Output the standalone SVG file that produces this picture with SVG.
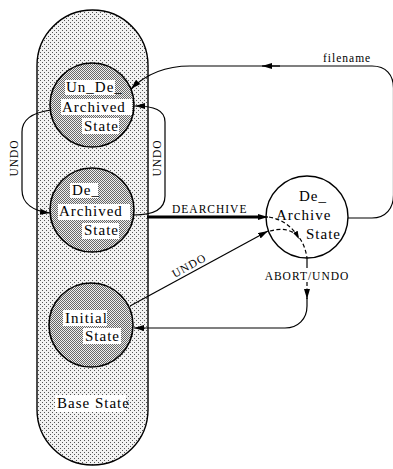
<svg xmlns="http://www.w3.org/2000/svg" width="393" height="469" viewBox="0 0 393 469">
  <defs>
    <!-- light stipple for the enclosing super-state -->
    <pattern id="stippleLight" x="0" y="0" width="4" height="4" patternUnits="userSpaceOnUse">
      <rect width="4" height="4" fill="#f2f2f2"/>
      <rect x="0" y="0" width="1" height="1" fill="#555"/>
      <rect x="2" y="2" width="1" height="1" fill="#555"/>
    </pattern>
    <!-- denser stipple for the inner states -->
    <pattern id="stippleDense" x="0" y="0" width="2" height="2" patternUnits="userSpaceOnUse">
      <rect width="2" height="2" fill="#eeeeee"/>
      <rect x="0" y="0" width="1" height="1" fill="#666"/>
      <rect x="1" y="1" width="1" height="1" fill="#666"/>
    </pattern>
    <marker id="arrow" viewBox="0 0 10 6" refX="10" refY="3" markerWidth="10" markerHeight="6" markerUnits="userSpaceOnUse" orient="auto">
      <path d="M0,0 L10,3 L0,6 Z" fill="#000"/>
    </marker>
    <marker id="arrowSmall" viewBox="0 0 8 5" refX="8" refY="2.5" markerWidth="8" markerHeight="5" markerUnits="userSpaceOnUse" orient="auto">
      <path d="M0,0 L8,2.5 L0,5 Z" fill="#000"/>
    </marker>
  </defs>
  <style>
    .state { stroke: #000; stroke-width: 1.6; fill: url(#stippleDense); }
    .super { stroke: #000; stroke-width: 1.4; fill: url(#stippleLight); }
    .plain { stroke: #000; stroke-width: 1.4; fill: #fff; }
    .lbl { font-family: "Liberation Serif", "Times New Roman", serif; font-size: 15px; letter-spacing: 1px; fill: #000; }
    .edge { font-family: "Liberation Serif", "Times New Roman", serif; font-size: 11.5px; letter-spacing: 1px; fill: #000; }
    .clear { fill: #fff; }
    .conn { fill: none; stroke: #000; stroke-width: 1.2; }
    .thick { fill: none; stroke: #000; stroke-width: 3; }
    .dash { fill: none; stroke: #000; stroke-width: 1.2; stroke-dasharray: 4 2.5; }
  </style>

  <rect width="393" height="469" fill="#fff"/>

  <g id="base-state">
    <rect class="super" x="37" y="10" width="111" height="455" rx="55.5" ry="55.5"/>
    <rect class="clear" x="55" y="395" width="71" height="17"/>
    <text class="lbl" x="57" y="408" letter-spacing="0.4">Base State</text>
  </g>

  <g id="un-de-archived-state">
    <circle class="state" cx="92" cy="105" r="42"/>
    <rect class="clear" x="65" y="80" width="50" height="15"/>
    <rect class="clear" x="61" y="99" width="71" height="16"/>
    <rect class="clear" x="82" y="118" width="37" height="16"/>
    <text class="lbl" x="66" y="92">Un_De_</text>
    <text class="lbl" x="62" y="112">Archived</text>
    <text class="lbl" x="84" y="131">State</text>
  </g>

  <g id="de-archived-state">
    <circle class="state" cx="92" cy="210" r="42"/>
    <rect class="clear" x="70" y="183" width="28" height="15"/>
    <rect class="clear" x="58" y="204" width="72" height="16"/>
    <rect class="clear" x="82" y="223" width="37" height="16"/>
    <text class="lbl" x="72" y="195">De_</text>
    <text class="lbl" x="59" y="216">Archived</text>
    <text class="lbl" x="84" y="235">State</text>
  </g>

  <g id="initial-state">
    <circle class="state" cx="91" cy="325" r="42"/>
    <rect class="clear" x="63" y="310" width="44" height="16"/>
    <rect class="clear" x="83" y="328" width="38" height="16"/>
    <text class="lbl" x="65" y="323">Initial</text>
    <text class="lbl" x="85" y="341">State</text>
  </g>

  <g id="de-archive-state">
    <circle class="plain" cx="307" cy="217" r="41"/>
    <text class="lbl" x="299" y="201">De_</text>
    <text class="lbl" x="276" y="220">Archive</text>
    <text class="lbl" x="306" y="239">State</text>
  </g>

  <g id="connectors">
    <!-- filename: self loop of De_Archive State back to Un_De_Archived State -->
    <path class="conn" d="M348 218 H372 C386 218 393.5 208 393.5 195 V88 C393.5 75 386 66 372 66 H268"/>
    <path class="conn" d="M270 66 H190 C166 66 146 74 131 89" marker-end="url(#arrow)"/>
    <path class="conn" d="M280 66 H262" marker-end="url(#arrow)"/>
    <text class="edge" x="323" y="62" font-size="11" letter-spacing="0.6">filename</text>

    <!-- UNDO: Un_De_Archived -> De_Archived (left loop) -->
    <path class="conn" d="M51 110 C36 112 22 118 22 132 V190 C22 204 34 211 50 213" marker-end="url(#arrow)"/>
    <text class="edge" transform="translate(18,158) rotate(-90)" text-anchor="middle" font-size="11" letter-spacing="1.2">UNDO</text>

    <!-- UNDO: De_Archived -> Un_De_Archived (right loop) -->
    <path class="conn" d="M134 215 C152 215 165 210 165 196 V122 C165 110 154 106 135 106" marker-end="url(#arrow)"/>
    <text class="edge" transform="translate(161,158) rotate(-90)" text-anchor="middle" font-size="11" letter-spacing="1.2">UNDO</text>

    <!-- DEARCHIVE -->
    <path class="thick" d="M147 217 H258"/>
    <path class="conn" d="M250 217 H268" marker-end="url(#arrow)"/>
    <text class="edge" x="172" y="213">DEARCHIVE</text>

    <!-- UNDO: Initial -> De_Archive -->
    <path class="conn" d="M130 306 L268 231" marker-end="url(#arrow)"/>
    <text class="edge" transform="translate(191,269) rotate(-28.7)" text-anchor="middle" font-size="11" letter-spacing="1.2">UNDO</text>

    <!-- internal transitions of De_Archive State -->
    <path class="dash" d="M269 217 Q290 221 299 239" marker-end="url(#arrowSmall)"/>
    <path class="dash" d="M270 231 C288 226 303 232 307 258"/>

    <!-- ABORT/UNDO: De_Archive -> Initial -->
    <path class="conn" d="M307 258 V268"/>
    <path class="dash" d="M307 282 V299" marker-end="url(#arrow)"/>
    <path class="conn" d="M307 298 V306 C307 319 298 328 285 328 H134" marker-end="url(#arrow)"/>
    <text class="edge" x="307" y="280" text-anchor="middle" font-size="12" letter-spacing="0.9">ABORT/UNDO</text>
  </g>
</svg>
